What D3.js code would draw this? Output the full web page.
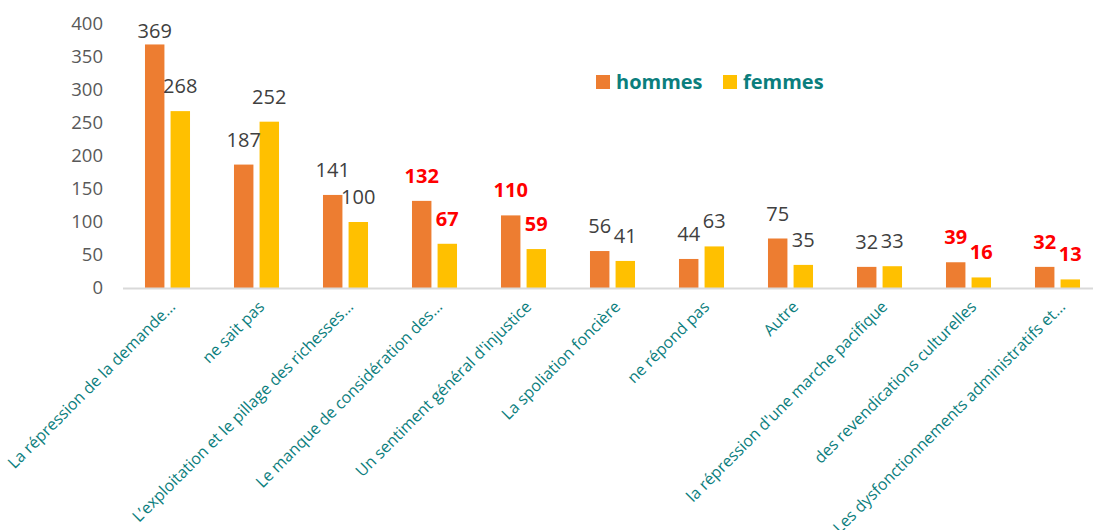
<!DOCTYPE html>
<html>
<head>
<meta charset="utf-8">
<script src="https://cdn.jsdelivr.net/npm/d3@7"></script>
<style>
  body { margin: 0; background: #fff; }
  svg { display: block; font-family: "Open Sans", "Noto Sans", sans-serif; }
</style>
</head>
<body>
<div id="main"></div>
<script>
const categories = [
    "La répression de la demande…",
    "ne sait pas",
    "L’exploitation et le pillage des richesses…",
    "Le manque de considération des…",
    "Un sentiment général d'injustice",
    "La spoliation foncière",
    "ne répond pas",
    "Autre",
    "la répression d'une marche pacifique",
    "des revendications culturelles",
    "Les dysfonctionnements administratifs et…"
];
const series = ["hommes", "femmes"];
const hommes = [369, 187, 141, 132, 110, 56, 44, 75, 32, 39, 32];
const femmes = [268, 252, 100, 67, 59, 41, 63, 35, 33, 16, 13];
// categories whose value labels are shown in red bold
const highlighted = [3, 4, 9, 10];
const yTicks = [0, 50, 100, 150, 200, 250, 300, 350, 400];

const ctx = {
    WIDTH: 1093,
    HEIGHT: 530,
    colors: { hommes: "#ED7D31", femmes: "#FFC000" },
    teal: "#0B7E7D",
};

function createViz() {
    const svg = d3.select("#main").append("svg")
        .attr("width", ctx.WIDTH)
        .attr("height", ctx.HEIGHT);

    const x0 = d3.scaleBand()
        .domain(categories)
        .range([123, 1102])
        .paddingInner(0.494)
        .paddingOuter(0.247);

    const x1 = d3.scaleBand()
        .domain(series)
        .range([0, x0.bandwidth()])
        .paddingInner(0.24);

    const y = d3.scaleLinear()
        .domain([0, 400])
        .range([288, 24]);

    // y tick labels (no axis line, no gridlines)
    svg.append("g")
        .selectAll("text")
        .data(yTicks)
        .enter()
        .append("text")
        .attr("x", 103)
        .attr("y", d => y(d))
        .attr("dy", "0.35em")
        .attr("text-anchor", "end")
        .attr("fill", "#595959")
        .attr("font-size", 18.5)
        .text(d => d);

    // bars
    const rows = categories.map((c, i) => ({ cat: c, i: i, hommes: hommes[i], femmes: femmes[i] }));
    const groups = svg.append("g")
        .selectAll("g")
        .data(rows)
        .enter()
        .append("g")
        .attr("transform", d => `translate(${x0(d.cat)},0)`);

    groups.selectAll("rect")
        .data(d => series.map(s => ({ key: s, value: d[s], i: d.i })))
        .enter()
        .append("rect")
        .attr("x", d => x1(d.key))
        .attr("y", d => y(d.value))
        .attr("width", x1.bandwidth())
        .attr("height", d => y(0) - y(d.value))
        .attr("fill", d => ctx.colors[d.key]);

    // value labels
    groups.selectAll("text")
        .data(d => series.map(s => ({ key: s, value: d[s], i: d.i })))
        .enter()
        .append("text")
        .attr("x", d => x1(d.key) + x1.bandwidth() / 2)
        .attr("y", d => Math.max(y(d.value) - 18, 38))
        .attr("text-anchor", "middle")
        .attr("font-size", 20)
        .attr("font-weight", d => highlighted.includes(d.i) ? "bold" : "normal")
        .attr("fill", d => highlighted.includes(d.i) ? "#FF0000" : "#404040")
        .text(d => d.value);

    // x axis line
    svg.append("line")
        .attr("x1", 123)
        .attr("x2", 1093)
        .attr("y1", y(0) + 0.5)
        .attr("y2", y(0) + 0.5)
        .attr("stroke", "#D9D9D9")
        .attr("stroke-width", 2);

    // rotated category labels
    svg.append("g")
        .selectAll("text")
        .data(categories)
        .enter()
        .append("text")
        .attr("transform", d => `translate(${x0(d) + x0.bandwidth() / 2 + 2},${y(0) + 13}) rotate(-45)`)
        .attr("text-anchor", "end")
        .attr("dy", "0.6em")
        .attr("font-size", 16)
        .attr("fill", ctx.teal)
        .text(d => d);

    // legend
    const legend = svg.append("g")
        .selectAll("g")
        .data(series)
        .enter()
        .append("g")
        .attr("transform", (d, i) => `translate(${596 + i * 127},75)`);
    legend.append("rect")
        .attr("width", 14)
        .attr("height", 14)
        .attr("fill", d => ctx.colors[d]);
    legend.append("text")
        .attr("x", 20)
        .attr("y", 7)
        .attr("dy", "0.36em")
        .attr("font-size", 20)
        .attr("font-weight", "bold")
        .attr("fill", ctx.teal)
        .text(d => d);
}

createViz();
</script>
</body>
</html>
